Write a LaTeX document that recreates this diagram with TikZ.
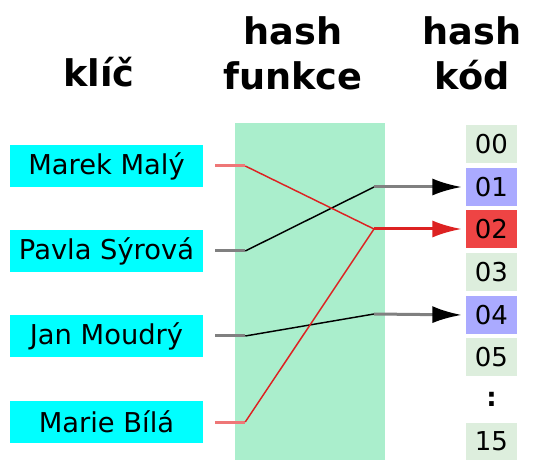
\documentclass[tikz,border=0pt]{standalone}
\usepackage{fontspec}
\setmainfont{DejaVu Sans}
\usetikzlibrary{arrows.meta}
\definecolor{keycolor}{HTML}{00FFFF}
\definecolor{funccolor}{HTML}{AAEECC}
\definecolor{slotcolor}{HTML}{DDEEDD}
\definecolor{hitcolor}{HTML}{AAAAFF}
\definecolor{clashcolor}{HTML}{EE4444}
\definecolor{redline}{HTML}{DD2222}
\definecolor{redstub}{HTML}{EE7777}

\tikzset{
  key/.style={fill=keycolor, inner sep=0pt, minimum width=144.75pt, minimum height=31.5pt,
    font=\fontsize{20.5}{23}\selectfont},
  slot/.style={fill=slotcolor, inner sep=0pt, minimum width=38.25pt, minimum height=28.5pt,
    font=\fontsize{19.5}{22}\selectfont},
  head/.style={align=center, inner sep=0pt, font=\fontsize{27.5}{34}\selectfont\bfseries},
  stub/.style={gray, line width=2.25pt},
  redstubline/.style={redstub, line width=2.25pt},
  link/.style={black, line width=1.1pt},
  redlink/.style={redline, line width=1.1pt},
  hit/.style={gray, line width=2.25pt, shorten >=3pt,
    -{Latex[length=22pt,width=12.75pt,color=black]}},
  redhit/.style={redline, line width=2.25pt, shorten >=3pt,
    -{Latex[length=22pt,width=12.75pt]}}
}

\begin{document}
\begin{tikzpicture}[x=0.75pt,y=-0.75pt]
\useasboundingbox (0,0) rectangle (551,460);

% hash function band
\fill[funccolor] (235,123) rectangle (385,460);

% column heads
\node[head, anchor=base] (hkey) at (99,87) {klíč};
\node[head, anchor=base] (hfunc) at (293,45) {hash};
\node[head, anchor=base] (hfunc2) at (293,90) {funkce};
\node[head, anchor=base] (hcode) at (472,45) {hash};
\node[head, anchor=base] (hcode2) at (472,90) {kód};

% keys
\node[key] (k1) at (106.5,166) {Marek Malý};
\node[key] (k2) at (106.5,251) {Pavla Sýrová};
\node[key] (k3) at (106.5,336) {Jan Moudrý};
\node[key] (k4) at (106.5,422) {Marie Bílá};

% hash codes
\node[slot] (c00) at (491.5,144) {00};
\node[slot, fill=hitcolor] (c01) at (491.5,187) {01};
\node[slot, fill=clashcolor] (c02) at (491.5,229) {02};
\node[slot] (c03) at (491.5,272) {03};
\node[slot, fill=hitcolor] (c04) at (491.5,315) {04};
\node[slot] (c05) at (491.5,357) {05};
\node[inner sep=0pt, font=\fontsize{19.5}{22}\selectfont\bfseries] (cdots) at (491.5,399) {:};
\node[slot] (c15) at (491.5,441.5) {15};

% stubs and bends
\foreach \i in {1,...,4} {
  \coordinate (s\i) at ([xshift=9pt]k\i.east);
  \coordinate (b\i) at ([xshift=31.5pt]k\i.east);
}
\coordinate (h1) at (374,187);
\coordinate (h2) at (374,229);
\coordinate (h4) at (374,314);

\draw[redstubline] (s1) -- (b1);
\draw[stub] (s2) -- (b2);
\draw[stub] (s3) -- (b3);
\draw[redstubline] (s4) -- (b4);

\draw[link] (b2) -- (h1);
\draw[link] (b3) -- (h4);
\draw[redlink] (b1) -- (h2);
\draw[redlink] (b4) -- (h2);

\draw[hit] (h1) -- (c01.west);
\draw[redhit] (h2) -- (c02.west);
\draw[hit] (h4) -- (c04.west);
\end{tikzpicture}
\end{document}
